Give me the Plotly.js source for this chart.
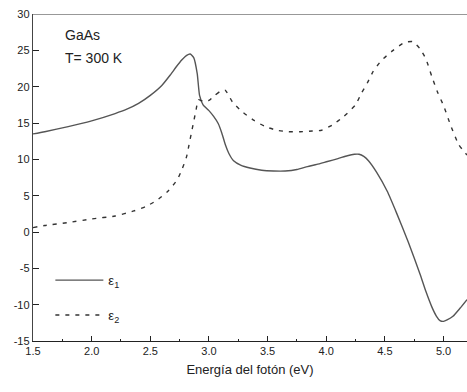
<!DOCTYPE html>
<html>
<head>
<meta charset="utf-8">
<script src="https://cdn.plot.ly/plotly-3.0.1.min.js"></script>
<style>html,body{margin:0;padding:0;background:#fff;}#chart{width:467px;height:392px;}</style>
</head>
<body>
<div id="chart"></div>
<script>
// Photon energy (eV) and dielectric function of GaAs at 300 K
const energyEps1 = [1.5, 1.6, 1.8, 2.0, 2.2, 2.3, 2.4, 2.5, 2.6, 2.67, 2.72, 2.77, 2.81, 2.84, 2.87, 2.90, 2.92, 2.95, 3.0, 3.04, 3.08, 3.11, 3.14, 3.17, 3.21, 3.27, 3.35, 3.45, 3.55, 3.65, 3.75, 3.84, 3.92, 4.01, 4.1, 4.18, 4.24, 4.28, 4.32, 4.36, 4.43, 4.52, 4.6, 4.7, 4.8, 4.85, 4.9, 4.94, 4.97, 5.0, 5.03, 5.08, 5.14, 5.2];
const eps1 = [13.5, 13.8, 14.5, 15.3, 16.3, 16.9, 17.7, 18.8, 20.2, 21.6, 22.7, 23.7, 24.3, 24.5, 24.0, 21.8, 18.8, 17.5, 16.7, 15.9, 14.9, 13.6, 12.0, 10.8, 9.8, 9.2, 8.8, 8.5, 8.4, 8.4, 8.6, 9.0, 9.3, 9.7, 10.1, 10.5, 10.7, 10.7, 10.4, 9.8, 8.2, 5.6, 2.6, -1.4, -5.8, -8.2, -10.3, -11.6, -12.2, -12.3, -12.1, -11.6, -10.5, -9.3];

const energyEps2 = [1.5, 1.6, 1.8, 2.0, 2.2, 2.36, 2.46, 2.55, 2.65, 2.73, 2.77, 2.81, 2.83, 2.85, 2.87, 2.89, 2.91, 2.95, 3.0, 3.05, 3.1, 3.14, 3.2, 3.28, 3.38, 3.48, 3.58, 3.68, 3.78, 3.88, 3.96, 4.05, 4.15, 4.25, 4.3, 4.35, 4.4, 4.47, 4.57, 4.67, 4.74, 4.8, 4.85, 4.9, 4.95, 5.0, 5.06, 5.13, 5.2];
const eps2 = [0.6, 0.9, 1.3, 1.8, 2.2, 2.9, 3.5, 4.3, 5.6, 7.2, 8.6, 10.4, 12.0, 13.6, 15.2, 16.8, 18.2, 18.0, 18.1, 18.8, 19.4, 19.5, 17.9, 16.6, 15.4, 14.5, 14.0, 13.8, 13.8, 13.9, 14.0, 14.7, 15.9, 17.5, 19.1, 20.5, 22.1, 23.6, 25.0, 26.1, 26.2, 25.2, 23.8, 21.4, 19.2, 17.4, 14.7, 12.0, 10.6];

const seriesNames = ["ε<sub>1</sub>", "ε<sub>2</sub>"];
const xTicks = [1.5, 2.0, 2.5, 3.0, 3.5, 4.0, 4.5, 5.0];
const yTicks = [-15, -10, -5, 0, 5, 10, 15, 20, 25, 30];

const font = "Liberation Sans, Arial, sans-serif";

const traces = [
  {x: energyEps1, y: eps1, type: "scatter", mode: "lines", name: seriesNames[0],
   line: {color: "#555", width: 1.4, shape: "spline", smoothing: 0.5}, legendgroup: "a"},
  {x: energyEps2, y: eps2, type: "scatter", mode: "lines", name: seriesNames[1],
   line: {color: "#333", width: 1.4, dash: "4px,6px", shape: "spline", smoothing: 0.5}, legendgroup: "b"}
];

const layout = {
  width: 467, height: 392,
  margin: {l: 33, r: 0, t: 14, b: 51},
  paper_bgcolor: "#fff", plot_bgcolor: "#fff",
  font: {family: font, color: "#222", size: 11},
  showlegend: true,
  legend: {x: 0.04, y: 0.232, xanchor: "left", yanchor: "top", bgcolor: "rgba(0,0,0,0)",
           font: {size: 13, family: font}, tracegroupgap: 15, traceorder: "grouped", itemwidth: 48},
  xaxis: {range: [1.5, 5.2], tickvals: xTicks, ticktext: xTicks.map(v => v.toFixed(1)),
          ticks: "inside", ticklen: 5, tickcolor: "#222", showgrid: false, zeroline: false,
          showline: true, linecolor: "#222", linewidth: 1.2, mirror: false,
          minor: {dtick: 0.25, tick0: 1.5, ticks: "inside", ticklen: 2, tickcolor: "#222"},
          title: {text: "Energía del fotón (eV)", font: {size: 13, family: font}, standoff: 8},
          tickfont: {size: 11}},
  yaxis: {range: [-15, 30], tickvals: yTicks, ticktext: yTicks.map(v => String(v)),
          ticks: "inside", ticklen: 6, tickcolor: "#222",
          showgrid: false, zeroline: false, showline: true, linecolor: "#444", linewidth: 1.2,
          tickfont: {size: 11}},
  shapes: [{type: "line", xref: "paper", yref: "y", x0: 0, x1: 1, y0: 30, y1: 30,
            line: {color: "#333", width: 1.2}}],
  annotations: [
    {xref: "paper", yref: "paper", x: 0.068, y: 0.935, xanchor: "left", yanchor: "middle",
     text: "GaAs", showarrow: false, font: {size: 14, family: font, color: "#222"}},
    {xref: "paper", yref: "paper", x: 0.068, y: 0.865, xanchor: "left", yanchor: "middle",
     text: "T= 300 K", showarrow: false, font: {size: 14, family: font, color: "#222"}}
  ]
};

Plotly.newPlot("chart", traces, layout, {displayModeBar: false, staticPlot: true});
</script>
</body>
</html>
